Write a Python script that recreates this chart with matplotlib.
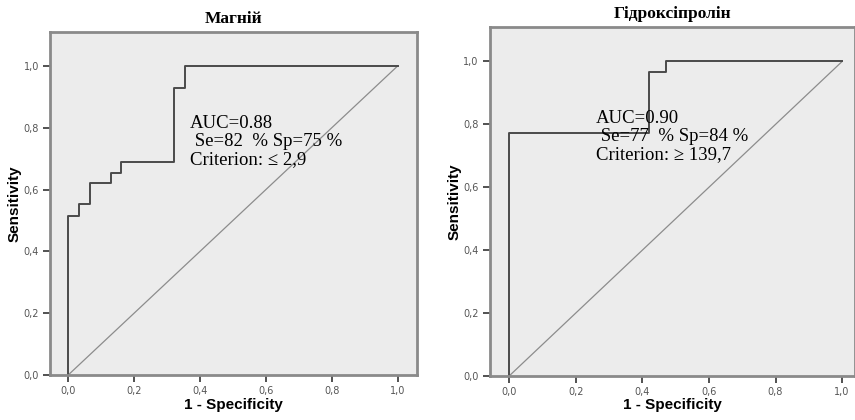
import matplotlib.pyplot as plt

# ROC curve for "Магній" (1 - specificity, sensitivity)
mg_fpr = [0.0, 0.0, 0.032, 0.032, 0.065, 0.065, 0.129, 0.129, 0.161, 0.161, 0.32, 0.32, 0.355, 0.355, 1.0]
mg_tpr = [0.0, 0.515, 0.515, 0.553, 0.553, 0.622, 0.622, 0.655, 0.655, 0.688, 0.688, 0.93, 0.93, 1.0, 1.0]

# ROC curve for "Гідроксіпролін"
hyp_fpr = [0.0, 0.0, 0.42, 0.42, 0.47, 0.47, 1.0]
hyp_tpr = [0.0, 0.774, 0.774, 0.966, 0.966, 1.0, 1.0]

titles = ["Магній", "Гідроксіпролін"]
notes = [
    "AUC=0.88\n Se=82  % Sp=75 %\nCriterion: \u2264 2,9",
    "AUC=0.90\n Se=77  % Sp=84 %\nCriterion: \u2265 139,7",
]
tick_vals = [0.0, 0.2, 0.4, 0.6, 0.8, 1.0]
tick_labels = ["0,0", "0,2", "0,4", "0,6", "0,8", "1,0"]

fig = plt.figure(figsize=(8.55, 4.2), dpi=100)
ax1 = fig.add_axes([0.0585, 0.107, 0.429, 0.817])
ax2 = fig.add_axes([0.573, 0.105, 0.4275, 0.831])

panels = [
    (ax1, mg_fpr, mg_tpr, (-0.055, 1.058), (0.37, 0.755)),
    (ax2, hyp_fpr, hyp_tpr, (-0.058, 1.04), (0.26, 0.76)),
]

for i, (ax, fpr, tpr, xlim, note_pos) in enumerate(panels):
    ax.set_facecolor("#ececec")
    ax.plot([0, 1], [0, 1], color="#8c8c8c", lw=0.9)
    ax.plot(fpr, tpr, color="#4a4a4a", lw=1.4)
    ax.set_xlim(*xlim)
    ax.set_ylim(0, 1.11)
    ax.set_xticks(tick_vals)
    ax.set_xticklabels(tick_labels)
    ax.set_yticks(tick_vals)
    ax.set_yticklabels(tick_labels)
    ax.tick_params(length=5, width=1.2, color="#333333", labelsize=7,
                   labelcolor="#555555", pad=3)
    for s in ax.spines.values():
        s.set_color("#8a8a8a")
        s.set_linewidth(2)
    ax.set_xlabel("1 - Specificity", family="Liberation Sans", fontweight="bold",
                  fontsize=11, labelpad=1)
    ax.set_ylabel("Sensitivity", family="Liberation Sans", fontweight="bold",
                  fontsize=11, labelpad=1)
    ax.set_title(titles[i], family="Liberation Serif", fontweight="bold",
                 fontsize=12.5, pad=6.5)
    ax.text(note_pos[0], note_pos[1], notes[i], family="Liberation Serif",
            fontsize=13.5, va="center", ha="left", linespacing=1.08, color="black")

fig.savefig("out.png", dpi=100)
